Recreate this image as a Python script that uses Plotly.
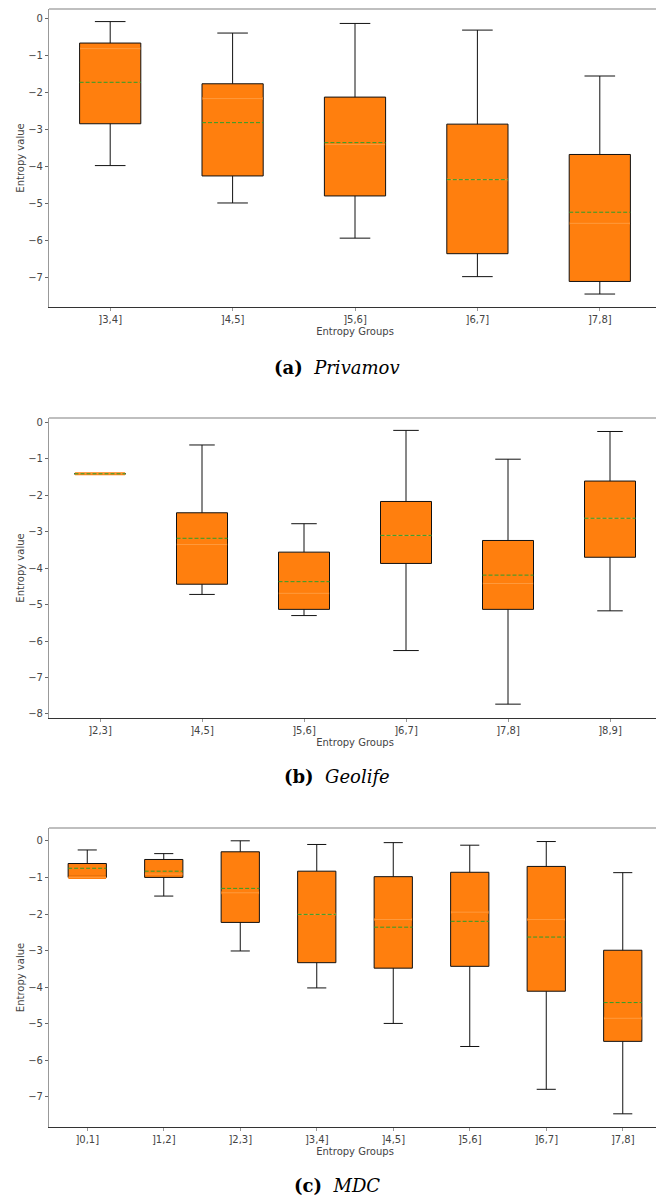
import plotly.graph_objects as go

# ---------------- data ----------------
priv_groups = ["]3,4]", "]4,5]", "]5,6]", "]6,7]", "]7,8]"]
priv_low = [-3.98, -4.99, -5.94, -6.98, -7.45]
priv_q1 = [-2.85, -4.26, -4.80, -6.36, -7.11]
priv_med = [-0.82, -2.17, -3.41, -4.36, -5.54]
priv_q3 = [-0.67, -1.77, -2.13, -2.86, -3.68]
priv_high = [-0.09, -0.40, -0.14, -0.32, -1.56]
priv_mean = [-1.73, -2.82, -3.36, -4.36, -5.24]

geo_groups = ["]2,3]", "]4,5]", "]5,6]", "]6,7]", "]7,8]", "]8,9]"]
geo_low = [-1.41, -4.72, -5.30, -6.26, -7.73, -5.17]
geo_q1 = [-1.41, -4.44, -5.13, -3.87, -5.13, -3.70]
geo_med = [-1.41, -3.35, -4.69, -3.10, -4.42, -2.63]
geo_q3 = [-1.41, -2.48, -3.56, -2.17, -3.24, -1.61]
geo_high = [-1.41, -0.62, -2.78, -0.22, -1.01, -0.25]
geo_mean = [-1.41, -3.18, -4.37, -3.10, -4.19, -2.63]

mdc_groups = ["]0,1]", "]1,2]", "]2,3]", "]3,4]", "]4,5]", "]5,6]", "]6,7]", "]7,8]"]
mdc_low = [-1.00, -1.51, -3.01, -4.02, -4.99, -5.62, -6.79, -7.46]
mdc_q1 = [-1.00, -1.00, -2.23, -3.33, -3.48, -3.43, -4.11, -5.48]
mdc_med = [-1.00, -0.91, -1.42, -2.01, -2.15, -1.95, -2.15, -4.85]
mdc_q3 = [-0.62, -0.51, -0.30, -0.83, -0.98, -0.86, -0.70, -2.99]
mdc_high = [-0.25, -0.35, 0.00, -0.10, -0.05, -0.12, -0.02, -0.87]
mdc_mean = [-0.75, -0.83, -1.30, -2.01, -2.36, -2.20, -2.63, -4.42]

captions = ["<b>(a)</b>  <i>Privamov</i>", "<b>(b)</b>  <i>Geolife</i>", "<b>(c)</b>  <i>MDC</i>"]
y_ranges = [[-7.8, 0.25], [-8.11, 0.12], [-7.82, 0.35]]
y_tickvals = [[0, -1, -2, -3, -4, -5, -6, -7],
              [0, -1, -2, -3, -4, -5, -6, -7, -8],
              [0, -1, -2, -3, -4, -5, -6, -7]]

panels = [
    (priv_groups, priv_low, priv_q1, priv_med, priv_q3, priv_high, priv_mean),
    (geo_groups, geo_low, geo_q1, geo_med, geo_q3, geo_high, geo_mean),
    (mdc_groups, mdc_low, mdc_q1, mdc_med, mdc_q3, mdc_high, mdc_mean),
]

# ---------------- layout geometry ----------------
# page body has an 8px margin, so the figure sits at (8, 8) in the window
OFF = 8
W, H = 664 - OFF, 1200 - OFF


def px_x(v):
    return (v - OFF) / W


def px_y(v):
    return 1 - (v - OFF) / H


x_dom = [px_x(49), px_x(661)]
y_doms = [[px_y(307), px_y(9)], [px_y(718), px_y(418)], [px_y(1127), px_y(828)]]
cap_y = [px_y(367), px_y(776), px_y(1185)]

ORANGE = "#ff7f0e"
MED_LIGHT = "#ff9a3c"
GREEN = "#2ca02c"
BOX_W = 0.5
EPS = 0.004

fig = go.Figure()
layout = dict(
    width=W, height=H,
    margin=dict(l=0, r=0, t=0, b=0),
    plot_bgcolor="white", paper_bgcolor="white",
    showlegend=False,
    font=dict(family="DejaVu Sans", size=10, color="#333"),
    annotations=[], shapes=[],
)

for k, (groups, low, q1, med, q3, high, mean) in enumerate(panels):
    sfx = "" if k == 0 else str(k + 1)
    xa, ya = "x" + sfx, "y" + sfx
    idx = list(range(len(groups)))
    fig.add_trace(go.Box(
        x=idx, q1=q1, median=med, q3=q3, lowerfence=low, upperfence=high,
        width=BOX_W, whiskerwidth=0.5,
        fillcolor=ORANGE, line=dict(color="#111", width=1),
        boxpoints=False, xaxis=xa, yaxis=ya, hoverinfo="skip",
    ))
    # median (orange) and mean (green dashed) lines
    mx, my, ax_, ay_ = [], [], [], []
    for i in idx:
        mx += [i - BOX_W / 2 + EPS, i + BOX_W / 2 - EPS, None]
        my += [med[i], med[i], None]
        ax_ += [i - BOX_W / 2, i + BOX_W / 2, None]
        ay_ += [mean[i], mean[i], None]
    fig.add_trace(go.Scatter(x=mx, y=my, mode="lines", line=dict(color=ORANGE, width=3),
                             xaxis=xa, yaxis=ya, hoverinfo="skip"))
    fig.add_trace(go.Scatter(x=mx, y=my, mode="lines", line=dict(color=MED_LIGHT, width=1),
                             xaxis=xa, yaxis=ya, hoverinfo="skip"))
    fig.add_trace(go.Scatter(x=ax_, y=ay_, mode="lines", line=dict(color=GREEN, width=1, dash="4px,2px"),
                             xaxis=xa, yaxis=ya, hoverinfo="skip"))

    layout["xaxis" + sfx] = dict(
        domain=x_dom, anchor=ya, range=[-0.5, len(groups) - 0.5], automargin=False,
        tickmode="array", tickvals=idx, ticktext=groups,
        showgrid=False, zeroline=False, showline=True, linecolor="#333", linewidth=1,
        ticks="outside", ticklen=3, tickcolor="#999",
        tickfont=dict(size=10, color="#444"),
        title=dict(text="Entropy Groups", font=dict(size=10, color="#444"), standoff=3),
    )
    layout["yaxis" + sfx] = dict(
        domain=y_doms[k], anchor=xa, range=y_ranges[k], automargin=False,
        tickmode="array", tickvals=y_tickvals[k],
        showgrid=False, zeroline=False, showline=True, mirror=True, linecolor="#999", linewidth=1.2,
        ticks="outside", ticklen=3, tickcolor="#666",
        tickfont=dict(size=10, color="#444"),
        title=dict(text="Entropy value", font=dict(size=10, color="#444"), standoff=1),
    )
    layout["shapes"].append(dict(
        type="line", xref=xa + " domain", yref=ya + " domain",
        x0=0, x1=1, y0=1, y1=1, line=dict(color="#aaa", width=1.5),
    ))
    layout["annotations"].append(dict(
        text=captions[k], xref="paper", yref="paper", x=px_x(337), y=cap_y[k],
        xanchor="center", yanchor="middle", showarrow=False,
        font=dict(family="DejaVu Serif", size=18, color="#000"),
    ))

fig.update_layout(**layout)
fig.write_html("out.html")
